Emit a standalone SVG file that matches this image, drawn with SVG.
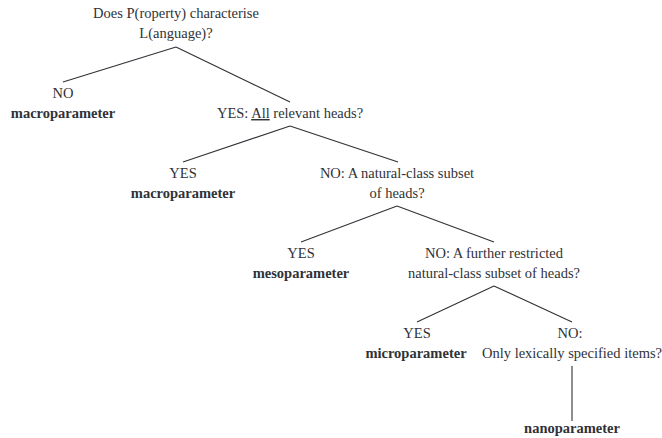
<svg xmlns="http://www.w3.org/2000/svg" width="662" height="438" viewBox="0 0 662 438">
<style>
text{font-family:"Liberation Serif","DejaVu Serif",serif;font-size:14.5px;fill:#2f3237;text-anchor:middle}
.b{font-weight:bold}
.e line{stroke:#2f3237;stroke-width:1.1}
</style>
<rect width="662" height="438" fill="#ffffff"/>
<g class="e" id="connectors">
<line x1="176" y1="47" x2="63" y2="82"/>
<line x1="176" y1="47" x2="290" y2="102"/>
<line x1="290" y1="126" x2="183" y2="162"/>
<line x1="290" y1="126" x2="398" y2="162"/>
<line x1="397" y1="206" x2="301" y2="242"/>
<line x1="397" y1="206" x2="494" y2="242"/>
<line x1="494" y1="286" x2="417" y2="322"/>
<line x1="494" y1="286" x2="572" y2="322"/>
<line x1="572" y1="366" x2="572" y2="421"/>
</g>
<g id="root"><text x="176" y="18">Does P(roperty) characterise</text><text x="176" y="38">L(anguage)?</text></g>
<g id="n1"><text x="63" y="98">NO</text><text class="b" x="63" y="118">macroparameter</text></g>
<g id="q2"><text x="290" y="118">YES: <tspan text-decoration="underline">All</tspan> relevant heads?</text></g>
<g id="n2"><text x="183" y="178">YES</text><text class="b" x="183" y="198">macroparameter</text></g>
<g id="q3"><text x="397" y="178">NO: A natural-class subset</text><text x="397" y="198">of heads?</text></g>
<g id="n3"><text x="301" y="258">YES</text><text class="b" x="301" y="278">mesoparameter</text></g>
<g id="q4"><text x="494" y="258">NO: A further restricted</text><text x="494" y="278">natural-class subset of heads?</text></g>
<g id="n4"><text x="417" y="338">YES</text><text class="b" x="416" y="358">microparameter</text></g>
<g id="q5"><text x="570" y="338">NO:</text><text x="572" y="358">Only lexically specified items?</text></g>
<g id="n5"><text class="b" x="572" y="433">nanoparameter</text></g>
</svg>
